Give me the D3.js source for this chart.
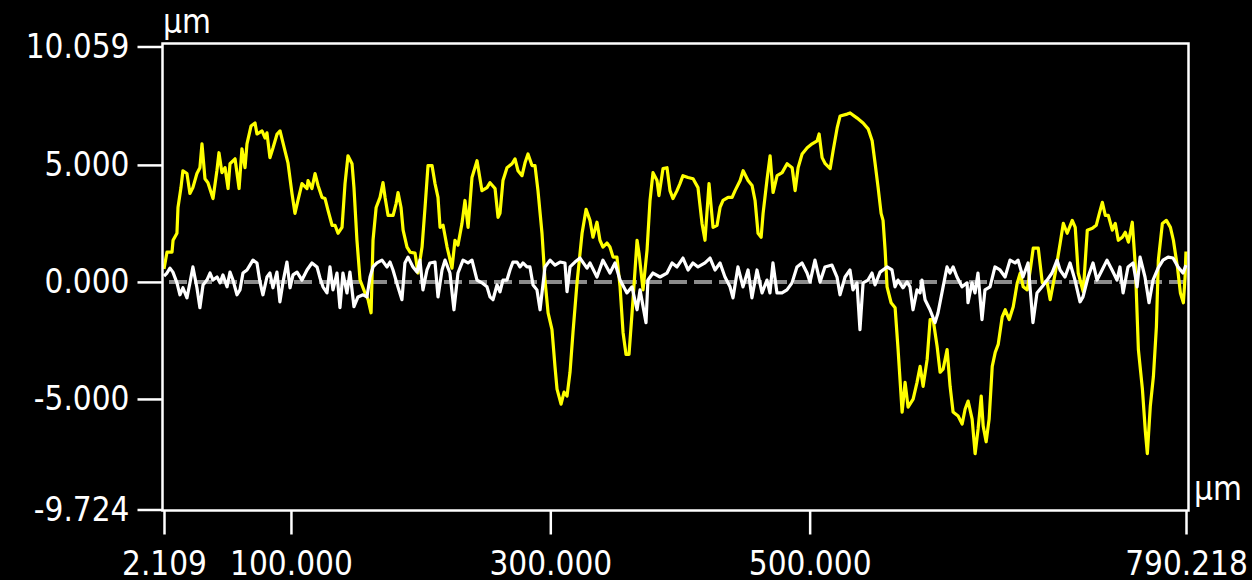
<!DOCTYPE html>
<html>
<head>
<meta charset="utf-8">
<script src="https://cdn.jsdelivr.net/npm/d3@7"></script>
<style>
  html, body { margin: 0; background: #000; }
  svg { display: block; }
  text { font-family: "DejaVu Sans Condensed", "DejaVu Sans", sans-serif; fill: #fff; }
</style>
</head>
<body>
<div id="chart"></div>
<script>
// Axis extents and tick values (µm)
const xDomain = [2.109, 790.218];
const yDomain = [-9.724, 10.059];
const xTicks = [2.109, 100, 300, 500, 790.218];
const yTicks = [-9.724, -5, 0, 5, 10.059];
const unitLabel = "μm";

// Yellow profile: position (µm) and height (µm)
const yellowX = [
  2.1, 4.4, 8.3, 9.1, 12.1, 12.9, 15.2, 16.7, 19.8, 22.1,
  24.4, 27.5, 29.8, 31.4, 33.7, 36.0, 39.9, 42.9, 44.5, 46.8,
  49.2, 51.5, 53.0, 56.9, 60.0, 62.2, 64.6, 66.1, 69.2, 72.3,
  73.8, 77.7, 80.0, 81.5, 83.8, 86.2, 89.3, 91.6, 95.4, 97.7,
  100.8, 103.1, 105.4, 108.5, 112.4, 113.2, 116.2, 118.6, 120.9, 124.0,
  126.3, 128.6, 131.7, 134.0, 136.3, 139.4, 141.7, 144.0, 147.1, 148.6,
  150.9, 153.3, 157.1, 159.5, 161.8, 163.3, 165.7, 168.7, 171.0, 172.6,
  174.9, 178.8, 181.1, 182.6, 184.9, 186.5, 189.5, 191.9, 195.7, 198.0,
  201.1, 203.4, 205.7, 208.8, 211.1, 213.4, 215.0, 217.3, 220.4, 224.2,
  226.5, 228.8, 231.9, 234.2, 236.6, 239.6, 243.5, 247.3, 251.2, 253.5,
  257.4, 259.7, 261.2, 263.5, 266.6, 270.5, 272.8, 275.1, 278.2, 280.5,
  282.8, 285.9, 288.2, 290.5, 293.6, 295.9, 298.3, 301.3, 303.6, 305.2,
  308.3, 310.6, 312.9, 315.2, 317.5, 320.6, 324.5, 327.6, 330.6, 332.9,
  336.0, 338.3, 340.6, 343.7, 346.0, 348.4, 351.4, 353.8, 356.1, 358.4,
  360.7, 363.8, 366.9, 368.4, 371.5, 374.6, 376.9, 379.2, 382.3, 383.8,
  386.9, 390.0, 392.3, 394.6, 397.7, 400.0, 402.3, 406.2, 410.1, 413.9,
  417.0, 419.3, 422.4, 425.5, 428.6, 430.9, 433.2, 437.1, 440.2, 442.5,
  446.4, 448.7, 452.5, 455.6, 457.9, 460.2, 462.6, 464.1, 467.2, 469.5,
  471.8, 474.9, 478.8, 482.6, 486.5, 488.8, 491.1, 494.2, 498.1, 501.9,
  505.8, 507.3, 509.6, 512.0, 515.8, 518.1, 521.2, 523.5, 528.9, 531.2,
  536.6, 541.2, 545.1, 548.2, 550.5, 552.8, 555.1, 556.6, 558.2, 559.7,
  562.8, 565.9, 568.2, 571.3, 573.6, 575.9, 579.8, 582.8, 585.2, 587.5,
  590.6, 592.9, 595.2, 598.3, 600.6, 602.9, 606.0, 608.3, 610.6, 614.5,
  617.6, 619.9, 622.2, 625.3, 627.6, 629.9, 632.3, 633.8, 636.1, 638.4,
  640.8, 643.1, 645.4, 648.5, 650.8, 653.9, 657.0, 660.1, 662.4, 664.7,
  667.8, 670.1, 672.4, 676.3, 679.4, 683.2, 685.5, 689.4, 693.2, 695.6,
  698.6, 702.5, 704.8, 707.1, 711.0, 714.1, 718.0, 721.0, 723.4, 725.7,
  728.0, 730.3, 733.4, 735.7, 738.0, 741.1, 743.4, 745.8, 748.8, 751.2,
  753.5, 756.6, 758.9, 760.4, 762.7, 765.1, 767.4, 768.9, 772.0, 775.1,
  778.2, 780.5, 783.6, 785.9, 788.2, 789.5, 790.2
];
const yellowY = [
  0.55, 1.27, 1.27, 1.78, 2.08, 3.18, 4.03, 4.75, 4.63, 3.78,
  4.03, 4.63, 4.88, 5.90, 4.41, 4.24, 3.56, 4.75, 5.52, 4.67,
  4.88, 3.99, 5.05, 5.26, 3.99, 5.69, 4.88, 5.90, 6.66, 6.79,
  6.32, 6.45, 6.15, 6.37, 5.31, 5.73, 6.32, 6.45, 5.60, 5.09,
  3.78, 2.93, 3.48, 4.20, 3.99, 4.33, 3.99, 4.63, 4.12, 3.61,
  3.56, 3.06, 2.42, 2.42, 2.08, 2.33, 4.20, 5.39, 5.05, 4.03,
  1.78, 0.08, -0.47, -0.76, -1.32, 1.78, 3.18, 3.61, 4.24, 3.61,
  2.84, 2.84, 3.35, 3.82, 3.18, 2.21, 1.49, 1.27, 1.23, 0.38,
  1.49, 3.18, 4.97, 4.97, 4.20, 3.61, 2.33, 2.42, 1.49, 0.59,
  1.78, 1.57, 2.50, 3.48, 2.33, 4.46, 5.18, 3.90, 4.03, 4.24,
  3.99, 2.76, 2.93, 4.33, 4.88, 5.05, 5.26, 4.75, 4.54, 5.09,
  5.47, 4.97, 4.97, 3.90, 2.08, 0.08, -1.32, -2.04, -3.61, -4.58,
  -5.22, -4.71, -4.88, -3.86, -2.16, -0.04, 2.08, 3.10, 2.63, 1.91,
  2.55, 1.78, 1.49, 1.66, 1.49, 1.06, 1.06, -0.21, -2.16, -3.10,
  -3.10, -0.76, 1.78, 1.23, -0.34, 1.36, 3.48, 4.67, 4.33, 3.69,
  4.84, 4.88, 3.90, 3.56, 3.90, 4.20, 4.54, 4.46, 4.41, 4.03,
  2.50, 1.78, 4.20, 2.33, 2.42, 3.18, 3.48, 3.61, 3.61, 3.90,
  4.33, 4.75, 4.33, 4.12, 3.48, 2.08, 1.91, 2.93, 4.41, 5.39,
  3.82, 4.54, 4.67, 5.05, 4.88, 3.90, 4.88, 5.47, 5.73, 5.90,
  6.03, 6.32, 5.31, 5.05, 4.84, 5.60, 6.58, 7.09, 7.17, 7.22,
  7.00, 6.79, 6.54, 6.03, 5.05, 4.03, 2.93, 2.63, 1.36, -0.21,
  -0.89, -1.10, -2.89, -5.56, -4.29, -5.35, -5.01, -4.29, -3.61, -4.46,
  -3.31, -1.61, -1.61, -2.76, -3.86, -3.73, -2.89, -4.46, -5.56, -5.73,
  -6.07, -5.43, -5.09, -5.86, -7.34, -6.28, -4.88, -6.15, -6.83, -5.86,
  -3.61, -3.01, -2.67, -1.49, -1.19, -1.61, -1.06, -0.04, 0.38, -0.21,
  -0.34, 0.51, 1.44, 1.44, -0.04, -0.04, -0.76, 0.38, 1.66, 2.50,
  2.08, 2.63, 2.33, 0.38, -0.42, 2.21, 2.29, 2.42, 2.93, 3.40,
  2.84, 2.84, 2.21, 2.50, 1.78, 1.91, 2.12, 1.70, 2.55, 0.64,
  -2.89, -4.58, -6.41, -7.34, -5.31, -4.03, -1.91, 0.93, 2.50, 2.63,
  2.33, 1.78, 0.64, -0.47, -0.89, 0.20, 1.30
];

// White profile: position (µm) and height (µm)
const whiteX = [
  2.1, 4.4, 6.7, 9.0, 12.1, 14.4, 16.7, 19.8, 22.1, 24.4,
  27.5, 29.8, 32.2, 35.2, 37.6, 39.9, 43.0, 45.3, 47.6, 50.7,
  53.0, 55.3, 58.4, 60.7, 63.0, 66.1, 68.4, 70.7, 73.8, 76.1,
  78.4, 81.5, 83.8, 86.1, 89.2, 91.5, 93.9, 96.9, 99.3, 101.6,
  104.7, 108.5, 112.4, 116.2, 120.1, 122.4, 124.7, 127.8, 130.1, 132.4,
  135.5, 137.8, 140.1, 143.2, 145.5, 148.6, 151.7, 155.6, 158.6, 161.0,
  163.3, 166.3, 170.2, 174.1, 176.4, 178.7, 182.5, 185.6, 187.9, 190.3,
  194.1, 197.2, 199.5, 201.8, 204.9, 207.2, 211.1, 213.4, 216.5, 218.8,
  222.6, 225.7, 228.8, 232.7, 236.5, 239.6, 243.5, 247.3, 251.2, 253.5,
  255.8, 258.9, 261.2, 263.5, 266.6, 268.9, 271.2, 274.3, 276.6, 278.9,
  282.0, 284.3, 286.7, 289.7, 292.1, 295.9, 299.8, 303.6, 307.5, 311.3,
  312.9, 315.2, 319.0, 322.9, 328.3, 330.6, 336.0, 340.6, 346.0, 349.9,
  353.8, 359.1, 363.0, 366.9, 369.2, 373.8, 375.3, 379.2, 384.6, 390.0,
  393.9, 397.7, 402.3, 406.2, 410.0, 413.9, 419.3, 423.2, 427.0, 430.9,
  434.7, 438.6, 440.9, 444.7, 448.6, 452.5, 455.5, 459.4, 463.3, 467.1,
  469.4, 471.7, 474.8, 478.7, 482.5, 486.4, 490.2, 494.1, 498.0, 500.3,
  504.1, 508.0, 511.8, 517.2, 521.1, 523.4, 527.3, 531.1, 533.4, 536.5,
  538.8, 541.2, 545.0, 548.1, 550.4, 554.3, 559.7, 563.5, 565.8, 568.1,
  572.0, 575.1, 577.4, 579.7, 582.8, 585.1, 586.6, 589.0, 592.8, 596.7,
  599.0, 602.9, 605.9, 608.2, 610.6, 613.6, 617.5, 621.4, 622.1, 625.2,
  627.5, 629.8, 632.9, 635.2, 639.1, 642.9, 646.8, 650.7, 654.5, 658.4,
  660.7, 664.5, 668.4, 672.2, 675.3, 679.2, 683.1, 686.9, 690.8, 693.1,
  696.9, 700.8, 704.6, 708.5, 710.8, 714.7, 718.5, 721.6, 725.5, 729.3,
  733.2, 737.0, 739.3, 741.7, 745.5, 749.4, 752.5, 754.8, 758.6, 761.7,
  764.8, 768.7, 772.5, 776.4, 780.2, 784.1, 787.9, 790.2
];
const whiteY = [
  0.25, 0.38, 0.59, 0.42, -0.04, -0.55, -0.25, -0.68, -0.04, 0.64,
  -0.25, -1.10, -0.13, 0.08, 0.38, 0.08, 0.21, -0.04, 0.30, -0.21,
  0.42, 0.08, -0.55, -0.34, 0.38, 0.51, 0.72, 0.93, 0.81, 0,
  -0.55, 0.21, 0.38, -0.25, 0.42, -0.85, 0, 0.85, -0.25, 0.30,
  0.42, 0.08, 0.51, 0.81, 0.64, 0.17, -0.21, -0.47, 0.64, -0.34,
  0.38, -1.10, 0.38, -0.47, 0.42, -1.06, -0.64, -0.55, -0.64, 0.21,
  0.64, 0.81, 0.93, 0.64, 0.85, 0.51, -0.21, -0.76, 0.81, 1.06,
  0.64, 0.42, 0.93, -0.34, 0.51, 0.81, 0.85, -0.64, 0.51, 0.93,
  0.38, -1.19, 0.38, 0.93, 0.81, 0.93, 0.08, -0.04, -0.21, -0.64,
  -0.76, -0.13, -0.42, 0.08, 0.08, 0.51, 0.85, 0.85, 0.64, 0.81,
  0.64, 0.64, -0.13, -0.34, -1.19, 0.64, 0.93, 0.72, 0.85, 0.81,
  -0.42, 0.64, 0.85, 1.02, 0.59, 0.81, 0.21, 0.93, 0.38, 0.81,
  0.08, -0.47, -0.21, -1.19, -0.34, -1.74, 0.08, 0.38, 0.21, 0.38,
  0.81, 0.64, 1.02, 0.51, 0.81, 0.64, 0.81, 1.02, 0.51, 0.81,
  0.21, -0.21, -0.68, 0.64, -0.21, 0.51, -0.68, 0.51, -0.47, 0.08,
  -0.47, 0.81, -0.47, -0.47, -0.34, -0.04, 0.64, 0.81, 0.38, 0,
  0.93, 0, 0.64, 0.72, 0.21, -0.55, 0.21, 0.51, -0.34, -0.04,
  -2.04, -0.04, 0.08, 0.38, -0.13, 0.42, 0.64, 0.51, -0.21, 0.08,
  -0.25, 0, -0.21, -1.19, -0.34, -0.47, 0.08, -0.76, -1.19, -1.74,
  -1.32, -0.21, 0.64, 0.38, 0.64, 0.21, -0.21, -0.04, -0.89, -0.04,
  -0.47, 0.38, -1.61, -0.34, -0.21, 0.64, 0.51, 0.21, 0.93, 0.81,
  0.93, 0.21, 0.81, -1.74, -0.47, -0.21, 0.08, 0.38, 0.93, 0.51,
  0.21, 0.81, 0.08, -0.85, -0.64, 0.21, 0.81, 0.08, 0.51, 0.93,
  0.51, 0.08, 0.64, -0.47, 0.64, 0.81, -0.21, 1.06, 0.21, -0.89,
  0.08, 0.59, 0.93, 1.06, 1.02, 0.64, 0.38, 0.72
];

const width = 1252;
const height = 580;
// plot area (data range) and the frame drawn slightly outside it
const plot = { left: 164, right: 1186, top: 46.5, bottom: 509.5 };
const frame = { left: 162.5, right: 1188.5, top: 43.5, bottom: 510.5 };

const svg = d3.select("#chart")
  .append("svg")
  .attr("width", width)
  .attr("height", height)
  .attr("viewBox", [0, 0, width, height]);

svg.append("rect")
  .attr("width", width)
  .attr("height", height)
  .attr("fill", "#000");

const x = d3.scaleLinear().domain(xDomain).range([plot.left, plot.right]);
const y = d3.scaleLinear().domain(yDomain).range([plot.bottom, plot.top]);

// Zero reference line (dashed grey)
svg.append("line")
  .attr("x1", x(xDomain[0]))
  .attr("x2", x(xDomain[1]))
  .attr("y1", y(0))
  .attr("y2", y(0))
  .attr("stroke", "#8c8c8c")
  .attr("stroke-width", 4)
  .attr("stroke-dasharray", "18,7")
  .attr("stroke-dashoffset", -5);

const series = [
  { xs: yellowX, ys: yellowY, color: "#ffff00" },
  { xs: whiteX, ys: whiteY, color: "#ffffff" }
];

const line = d3.line()
  .x((d) => x(d[0]))
  .y((d) => y(d[1]));

svg.append("g")
  .selectAll("path")
  .data(series)
  .join("path")
  .attr("d", (s) => line(d3.zip(s.xs, s.ys)))
  .attr("fill", "none")
  .attr("stroke", (s) => s.color)
  .attr("stroke-width", 3.2)
  .attr("stroke-linejoin", "round");

// Frame
svg.append("rect")
  .attr("x", frame.left)
  .attr("y", frame.top)
  .attr("width", frame.right - frame.left)
  .attr("height", frame.bottom - frame.top)
  .attr("fill", "none")
  .attr("stroke", "#fff")
  .attr("stroke-width", 2.5);

// plain hyphen for negatives, like the instrument software
const fmt = (d) => d3.format(".3f")(d).replace("\u2212", "-");

// Y axis
const yAxis = svg.append("g")
  .attr("transform", `translate(${frame.left}, 0)`)
  .call(d3.axisLeft(y).tickValues(yTicks).tickFormat(fmt).tickSize(25).tickSizeOuter(0).tickPadding(8));

// X axis
const xAxis = svg.append("g")
  .attr("transform", `translate(0, ${frame.bottom})`)
  .call(d3.axisBottom(x).tickValues(xTicks).tickFormat(fmt).tickSize(24).tickSizeOuter(0));

xAxis.selectAll("text").attr("dy", null).attr("y", 64);

[yAxis, xAxis].forEach((g) => {
  g.select(".domain").remove();
  g.selectAll(".tick line").attr("stroke", "#fff").attr("stroke-width", 2.5);
  g.selectAll("text")
    .attr("fill", "#fff")
    .style("font-size", "33px")
    .style("font-family", '"DejaVu Sans Condensed", "DejaVu Sans", sans-serif');
});

// Unit labels
svg.append("text")
  .attr("x", 163)
  .attr("y", 33)
  .style("font-size", "33px")
  .text(unitLabel);

svg.append("text")
  .attr("x", 1194)
  .attr("y", 500)
  .style("font-size", "33px")
  .text(unitLabel);
</script>
</body>
</html>
